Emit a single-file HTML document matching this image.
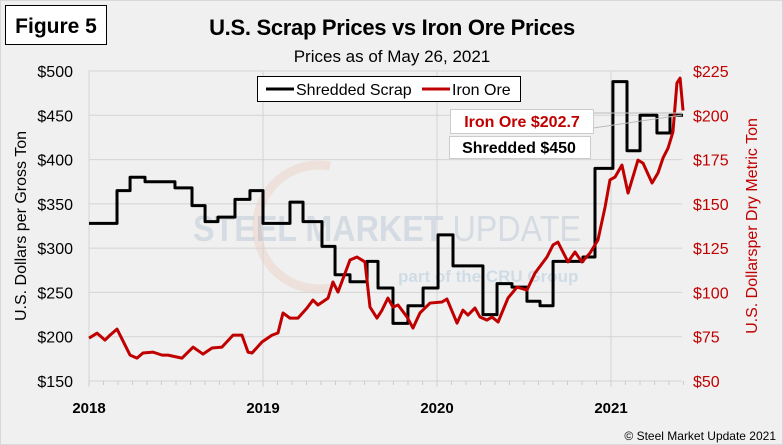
<!DOCTYPE html>
<html><head><meta charset="utf-8"><style>
body{margin:0;background:#fff}
svg{display:block;font-family:"Liberation Sans",sans-serif}
</style></head><body>
<svg id="c" width="783" height="445" viewBox="0 0 783 445">
<rect x="0.5" y="0.5" width="782" height="444" fill="#f0f0f0" stroke="#d8d8d8"/>
<rect x="5.5" y="5.5" width="101" height="39" fill="#fff" stroke="#000"/>
<text x="56" y="33" text-anchor="middle" font-size="21" font-weight="bold">Figure 5</text>
<text x="392" y="35" text-anchor="middle" font-size="22" font-weight="bold" letter-spacing="-0.3">U.S. Scrap Prices vs Iron Ore Prices</text>
<text x="392" y="62" text-anchor="middle" font-size="17">Prices as of May 26, 2021</text>
<g>
<path d="M 330 166 A 62 62 0 1 0 330 288" fill="none" stroke="#e8a080" stroke-width="9" opacity="0.2"/>
<text x="193" y="241" font-size="36" fill="#5070a0" opacity="0.16" textLength="388" lengthAdjust="spacingAndGlyphs"><tspan font-weight="bold">STEEL MARKET</tspan> UPDATE</text>
<text x="398" y="282" font-size="17" font-weight="bold" fill="#5090c0" opacity="0.2">part of the CRU Group</text>
</g>
<g id="grid"></g>
<g id="axes"></g>
<g id="series"></g>
<rect x="257.5" y="76.5" width="263" height="25" fill="#fff" stroke="#000"/>
<line x1="266" y1="89" x2="294" y2="89" stroke="#000" stroke-width="3"/>
<text x="296" y="95" font-size="16">Shredded Scrap</text>
<line x1="422" y1="89" x2="450" y2="89" stroke="#c00000" stroke-width="3"/>
<text x="452" y="95" font-size="16">Iron Ore</text>
<line x1="593" y1="113" x2="682" y2="113" stroke="#bbb"/>
<line x1="593" y1="128" x2="682" y2="115" stroke="#bbb"/>
<rect x="450.5" y="109.5" width="143" height="24" fill="#fff" stroke="#ccc"/>
<text x="522" y="127" text-anchor="middle" font-size="16" font-weight="bold" fill="#c00000">Iron Ore $202.7</text>
<rect x="449.5" y="136.5" width="141" height="22" fill="#fff" stroke="#ccc"/>
<text x="519" y="153" text-anchor="middle" font-size="16" font-weight="bold">Shredded $450</text>
<text transform="translate(26,226) rotate(-90)" text-anchor="middle" font-size="16">U.S. Dollars per Gross Ton</text>
<text transform="translate(757,226) rotate(-90)" text-anchor="middle" font-size="16" fill="#c00000">U.S. Dollarsper Dry Metric Ton</text>
<text x="776" y="440" text-anchor="end" font-size="12">© Steel Market Update 2021</text>
</svg>
<script>
const leftTicks=[150,200,250,300,350,400,450,500];
const rightTicks=[50,75,100,125,150,175,200,225];
const yearTicks=[2018,2019,2020,2021];
const scrapDates=[2018.0,2018.161,2018.236,2018.322,2018.494,2018.592,2018.667,2018.741,2018.839,2018.925,2019.0,2019.155,2019.23,2019.339,2019.414,2019.5,2019.598,2019.661,2019.747,2019.833,2019.92,2020.006,2020.092,2020.264,2020.345,2020.431,2020.517,2020.592,2020.667,2020.839,2020.908,2021.011,2021.092,2021.167,2021.264,2021.339,2021.414];
const scrapValues=[328,365,380,375,368,348,330,335,355,365,328,352,330,302,270,262,285,255,215,235,255,315,280,225,260,256,240,235,285,290,390,488,410,450,430,450,450];
const oreDates=[2018.0,2018.046,2018.092,2018.121,2018.161,2018.236,2018.276,2018.31,2018.368,2018.42,2018.454,2018.534,2018.598,2018.655,2018.707,2018.764,2018.828,2018.879,2018.914,2018.937,2018.994,2019.052,2019.086,2019.115,2019.155,2019.201,2019.253,2019.287,2019.316,2019.374,2019.402,2019.431,2019.5,2019.54,2019.586,2019.615,2019.655,2019.684,2019.718,2019.747,2019.776,2019.828,2019.862,2019.902,2019.96,2020.029,2020.057,2020.115,2020.149,2020.178,2020.218,2020.247,2020.287,2020.316,2020.351,2020.408,2020.46,2020.517,2020.563,2020.632,2020.667,2020.695,2020.724,2020.753,2020.793,2020.833,2020.879,2020.925,2020.966,2020.994,2021.023,2021.063,2021.098,2021.155,2021.184,2021.236,2021.27,2021.299,2021.328,2021.356,2021.379,2021.397,2021.414];
const oreValues=[74.2,77,73.1,75.9,79.3,64.6,62.9,65.8,66.3,64.6,64.6,62.9,69.1,65.2,68.6,69.1,75.9,75.9,66.3,65.8,72,75.9,77.1,88.4,85.5,85.5,91.2,95.7,92.9,96.8,105.9,100.2,118.3,120,117.2,91.7,85.5,90,96.8,91.7,92.9,86.1,79.9,88.4,94,94.6,96.3,82.7,90,87.2,91.2,86.1,84.4,86.1,83.3,96.8,103,101.3,110.9,120,126.8,128.4,122.8,117.2,122.8,117.2,122.2,129.6,148.2,163.5,165.1,171.9,156.1,174.7,173,161.8,167.4,175.9,181.5,190.6,218.2,221,202.7];
const X0=89,X1=682,YT=71,YB=381;
const x=t=>X0+(t-2018)*174;
const yl=v=>YB-(v-150)/350*(YB-YT);
const yr=v=>YB-(v-50)/175*(YB-YT);
const NS='http://www.w3.org/2000/svg';
function mk(tag,parent,attrs){const e=document.createElementNS(NS,tag);for(const k in attrs)e.setAttribute(k,attrs[k]);document.getElementById(parent).appendChild(e);return e;}
leftTicks.forEach(v=>{
 const g=mk('line','grid',{x1:X0,x2:X1,y1:yl(v),y2:yl(v),stroke:'#d4d4d4','stroke-width':1});
 
 
 const t=mk('text','axes',{x:73,y:yl(v)+6,'text-anchor':'end','font-size':16});
 t.textContent='$'+v;
 
 
});
rightTicks.forEach(v=>{
 const t=mk('text','axes',{x:693,y:yr(v)+6,'font-size':16,fill:'#c00000'});
 t.textContent='$'+v;
 
 
});
yearTicks.forEach(v=>{
 const g=mk('line','grid',{x1:x(v),x2:x(v),y1:YT,y2:YB+6,stroke:'#d4d4d4'});
 
 
 const t=mk('text','axes',{x:x(v),y:413,'text-anchor':'middle','font-size':15,'font-weight':'bold'});
 t.textContent=v;
 
 
});
for(let m=0;m<=41;m++){
 const xx=X0+m*174/12;
 const tk=mk('line','axes',{x1:xx,x2:xx,y1:YB,y2:YB+4,stroke:'#ccc'});
 
 
}
let d='';
scrapDates.forEach((t,i)=>{
 if(i===0)d+='M'+x(t)+','+yl(scrapValues[i]);
 else d+='L'+x(t)+','+yl(scrapValues[i-1])+'L'+x(t)+','+yl(scrapValues[i]);
});
const ps=mk('path','series',{d:d,fill:'none',stroke:'#000','stroke-width':3,'stroke-linejoin':'round'});


const po=mk('path','series',{d:oreDates.map((t,i)=>(i?'L':'M')+x(t)+','+yr(oreValues[i])).join(''),fill:'none',stroke:'#c00000','stroke-width':3,'stroke-linejoin':'round'});


</script>
</body></html>
